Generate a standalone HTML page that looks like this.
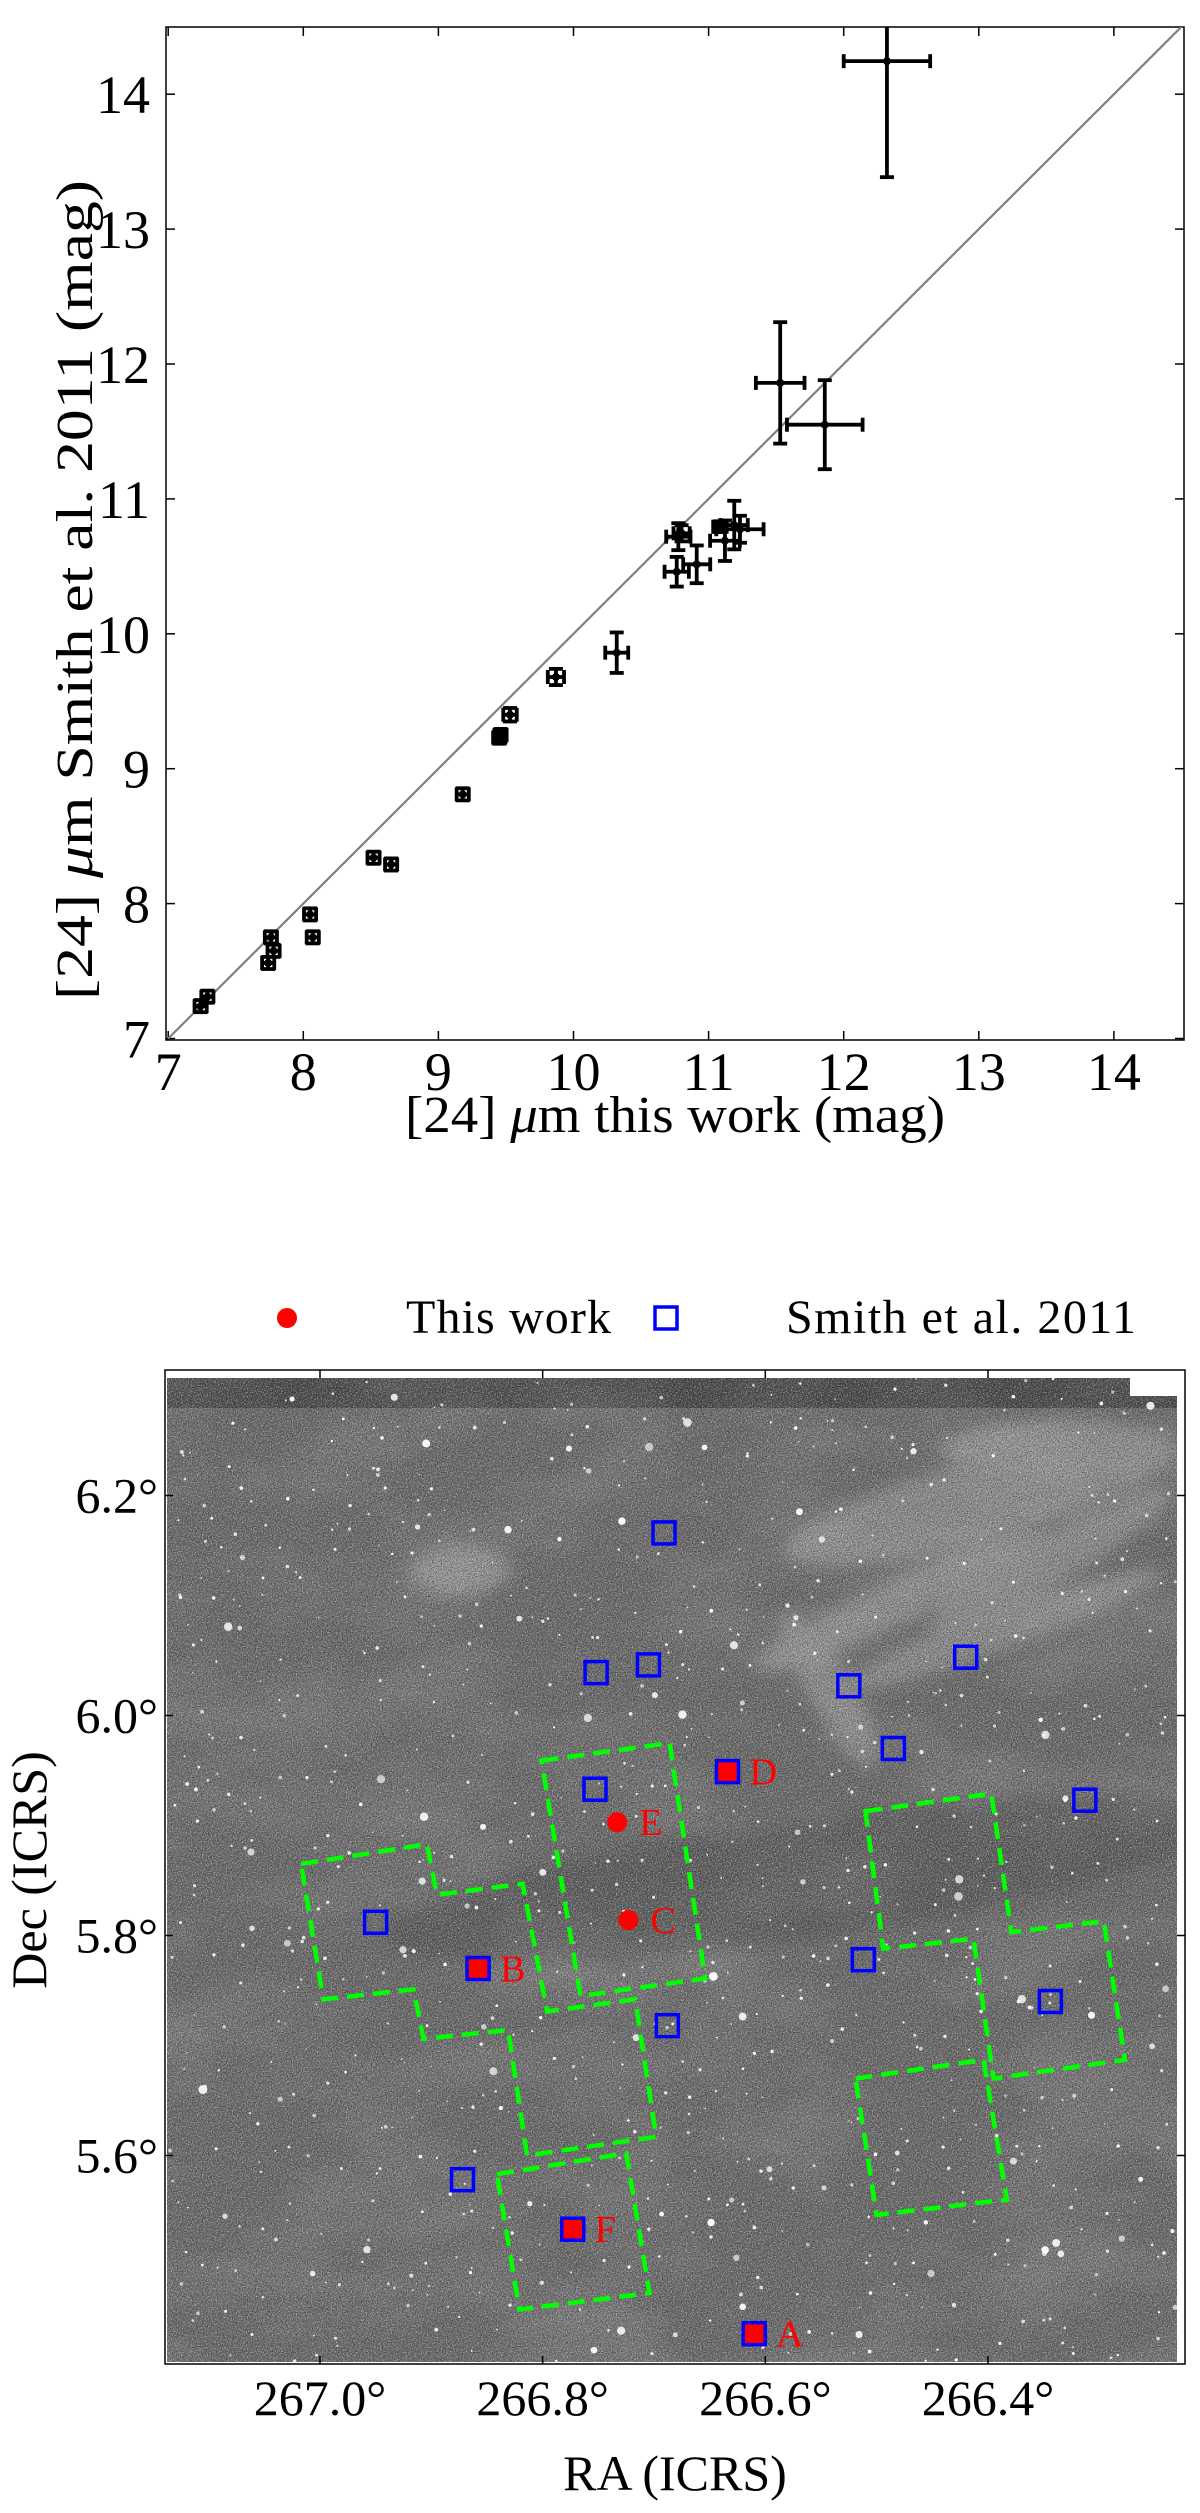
<!DOCTYPE html>
<html><head><meta charset="utf-8"><style>
html,body{margin:0;padding:0;background:#fff}
svg{display:block}
text{font-family:"Liberation Serif",serif;fill:#000}
</style></head><body>
<svg id="fig" width="1200" height="2513" viewBox="0 0 1200 2513" xmlns="http://www.w3.org/2000/svg">
<defs>
<clipPath id="clipTop"><rect x="166" y="27" width="1018" height="1013"/></clipPath>
<clipPath id="clipImg"><rect x="167" y="1378" width="1010" height="984"/></clipPath>
<filter id="grainW" x="0" y="0" width="100%" height="100%">
<feTurbulence type="fractalNoise" baseFrequency="0.8" numOctaves="2" seed="3"/>
<feColorMatrix type="matrix" values="0 0 0 0 1  0 0 0 0 1  0 0 0 0 1  3 0 0 0 -1.45"/>
</filter>
<filter id="grainB" x="0" y="0" width="100%" height="100%">
<feTurbulence type="fractalNoise" baseFrequency="0.8" numOctaves="2" seed="9"/>
<feColorMatrix type="matrix" values="0 0 0 0 0  0 0 0 0 0  0 0 0 0 0  3 0 0 0 -1.45"/>
</filter>
<filter id="cloud" x="0" y="0" width="100%" height="100%">
<feTurbulence type="fractalNoise" baseFrequency="0.006 0.012" numOctaves="4" seed="7"/>
<feColorMatrix type="matrix" values="0 0 0 0 1  0 0 0 0 1  0 0 0 0 1  0 0 0 0.9 -0.35"/>
</filter>
<filter id="blur8"><feGaussianBlur stdDeviation="8"/></filter>
</defs>

<!-- ===== Top panel ===== -->
<g id="topPanel">
<rect x="166" y="27" width="1018" height="1013" fill="#fff" stroke="#000" stroke-width="1.5"/>
<g id="topTicks"></g>
<g id="topMarks" clip-path="url(#clipTop)"></g>
<text x="405" y="1132" font-size="52" textLength="540" lengthAdjust="spacingAndGlyphs">[24] <tspan font-style="italic">μ</tspan>m this work (mag)</text>
<text transform="translate(92,1000) rotate(-90)" font-size="52" textLength="820" lengthAdjust="spacingAndGlyphs">[24] <tspan font-style="italic">μ</tspan>m Smith et al. 2011 (mag)</text>
</g>

<!-- ===== Bottom panel ===== -->
<g id="botPanel">
<g>
<circle cx="287" cy="1318" r="10" fill="#ff0000"/>
<text x="406" y="1333" font-size="48" textLength="205">This work</text>
<rect x="655" y="1307" width="22" height="22" fill="none" stroke="#0000ff" stroke-width="3.5"/>
<text x="786" y="1333" font-size="48" textLength="350">Smith et al. 2011</text>
</g>
<g clip-path="url(#clipImg)">
<rect x="167" y="1378" width="1010" height="984" fill="#6a6a6a"/>
<rect x="167" y="1378" width="1010" height="30" fill="#4a4a4a"/>
<rect x="167" y="1378" width="1010" height="984" filter="url(#cloud)" opacity="0.3"/>
<g filter="url(#blur8)" fill="#fff" opacity="0.22">
<ellipse cx="980" cy="1500" rx="200" ry="40" transform="rotate(-15 980 1500)"/>
<ellipse cx="1060" cy="1450" rx="120" ry="30"/>
<ellipse cx="900" cy="1600" rx="160" ry="22" transform="rotate(-25 900 1600)"/>
<ellipse cx="830" cy="1690" rx="22" ry="90" transform="rotate(-30 830 1690)"/>
<ellipse cx="1000" cy="1630" rx="170" ry="20" transform="rotate(-20 1000 1630)"/>
<ellipse cx="1050" cy="1560" rx="140" ry="25" transform="rotate(-30 1050 1560)"/>
<ellipse cx="460" cy="1570" rx="50" ry="25"/>
</g>
<g filter="url(#blur8)" fill="#000" opacity="0.12">
<ellipse cx="800" cy="1880" rx="420" ry="60" transform="rotate(-8 800 1880)"/>
</g>
<rect x="167" y="1378" width="1010" height="984" filter="url(#grainW)" opacity="0.55"/>
<rect x="167" y="1378" width="1010" height="984" filter="url(#grainB)" opacity="0.5"/>
<g id="stars"></g>
<rect x="1130" y="1378" width="50" height="18" fill="#fff"/>
</g>
<rect x="165" y="1370" width="1020" height="994" fill="none" stroke="#000" stroke-width="1.5"/>
<g id="botTicks"></g>
<g id="botMarks"></g>
<text x="675" y="2490" font-size="50" text-anchor="middle">RA (ICRS)</text>
<text transform="translate(46,1870) rotate(-90)" font-size="50" text-anchor="middle">Dec (ICRS)</text>
</g>
</svg>
<script>
// ---------- Top chart data ----------
const magThisWork = [12.32,11.53,11.86,10.776,10.764,10.912,11.121,11.19,11.232,11.084,10.80,10.32,9.87,9.53,9.45,9.46,9.18,8.52,8.65,8.05,8.07,7.76,7.78,7.74,7.24,7.29];
const magSmith    = [14.245,11.86,11.55,10.72,10.46,10.515,10.69,10.806,10.775,10.794,10.745,9.86,9.68,9.40,9.23,9.25,8.81,8.34,8.29,7.92,7.75,7.75,7.65,7.56,7.24,7.31];
const errThisWork = [0.32,0.18,0.28,0.09,0.09,0.10,0.11,0.10,0.175,0.05,0.06,0.085,0.06,0.05,0.045,0.045,0.045,0.045,0.045,0.045,0.045,0.045,0.045,0.045,0.045,0.045];
const errSmith    = [0.86,0.45,0.33,0.10,0.11,0.14,0.15,0.18,0.10,0.04,0.06,0.15,0.06,0.05,0.045,0.045,0.045,0.045,0.045,0.045,0.045,0.045,0.045,0.045,0.045,0.045];
const topTickValues = [7,8,9,10,11,12,13,14];
const topTickLabels = ["7","8","9","10","11","12","13","14"];

// ---------- Sky map data ----------
const smithRA  = [266.691,266.752,266.705,266.525,266.420,266.485,266.634,266.753,266.313,266.950,266.858,266.512,266.344,266.688,266.872,266.773,266.610];
const smithDec = [6.166,6.039,6.046,6.027,6.053,5.970,5.949,5.933,5.923,5.812,5.770,5.778,5.740,5.718,5.578,5.533,5.438];
const workLabels = ["A","B","C","D","E","F"];
const workRA  = [266.610,266.858,266.723,266.634,266.733,266.773];
const workDec = [5.438,5.770,5.814,5.949,5.903,5.533];
const workShape = ["square","square","circle","square","circle","square"];
const footprintRA = [
 [267.017,266.904,266.895,266.818,266.796,266.717,266.698,266.814,266.831,266.907,266.916,266.997],
 [266.801,266.686,266.654,266.766],
 [266.841,266.725,266.704,266.821],
 [266.510,266.397,266.379,266.296,266.277,266.395,266.413,266.494],
 [266.519,266.404,266.383,266.500]
];
const footprintDec = [
 [5.865,5.883,5.837,5.847,5.731,5.742,5.617,5.600,5.714,5.706,5.751,5.742],
 [5.959,5.975,5.761,5.745],
 [5.583,5.602,5.475,5.460],
 [5.913,5.929,5.803,5.813,5.687,5.670,5.797,5.788],
 [5.670,5.687,5.560,5.546]
];
const raTicks = [267.0,266.8,266.6,266.4];
const raTickLabels = ["267.0°","266.8°","266.6°","266.4°"];
const decTicks = [6.2,6.0,5.8,5.6];
const decTickLabels = ["6.2°","6.0°","5.8°","5.6°"];

const NS = "http://www.w3.org/2000/svg";
function mk(tag, attrs, parent){const e=document.createElementNS(NS,tag);for(const k in attrs)e.setAttribute(k,attrs[k]);parent.appendChild(e);return e;}
const X1 = v => 168.2 + (v-7)*135.1;
const Y1 = v => 1038.5 - (v-7)*134.9;
const X2 = ra => 320 + (267-ra)*1113.3;
const Y2 = dec => 1495.5 + (6.2-dec)*1100;

// top ticks
const tt = document.getElementById('topTicks');
topTickValues.forEach((v,i)=>{
  const x=X1(v), y=Y1(v);
  let l;
  l=mk('line',{x1:x,y1:1040,x2:x,y2:1031,stroke:'#000','stroke-width':1.5},tt);
  
  
  mk('line',{x1:x,y1:27,x2:x,y2:36,stroke:'#000','stroke-width':1.5},tt);
  l=mk('line',{x1:166,y1:y,x2:175,y2:y,stroke:'#000','stroke-width':1.5},tt);
  
  
  mk('line',{x1:1184,y1:y,x2:1175,y2:y,stroke:'#000','stroke-width':1.5},tt);
  const tx=mk('text',{x:x,y:1090,'font-size':54,'text-anchor':'middle'},tt);
  tx.textContent=topTickLabels[i];
  
  
  const ty=mk('text',{x:150,y:y+19,'font-size':54,'text-anchor':'end'},tt);
  ty.textContent=topTickLabels[i];
  
  
});
// top marks
const tm = document.getElementById('topMarks');
const diag = mk('line',{x1:X1(7),y1:Y1(7),x2:X1(14.5),y2:Y1(14.5),stroke:'#808080','stroke-width':2.2},tm);


magThisWork.forEach((xv,i)=>{
  const yv=magSmith[i], ex=errThisWork[i], ey=errSmith[i];
  const g=mk('g',{stroke:'#000','stroke-width':3.8},tm);
  
  
  const x=X1(xv), y=Y1(yv), xa=X1(xv-ex), xb=X1(xv+ex), ya=Y1(yv-ey), yb=Y1(yv+ey);
  mk('line',{x1:xa,y1:y,x2:xb,y2:y},g);
  mk('line',{x1:x,y1:ya,x2:x,y2:yb},g);
  mk('line',{x1:xa,y1:y-7,x2:xa,y2:y+7},g);
  mk('line',{x1:xb,y1:y-7,x2:xb,y2:y+7},g);
  mk('line',{x1:x-7,y1:ya,x2:x+7,y2:ya},g);
  mk('line',{x1:x-7,y1:yb,x2:x+7,y2:yb},g);
  mk('circle',{cx:x,cy:y,r:4,fill:'#000',stroke:'none'},g);
});

// stars (image texture)
const st=document.getElementById('stars');
let seed=12345; const rnd=()=>{seed=(seed*16807)%2147483647;return seed/2147483647;};
for(let i=0;i<900;i++){
  const r=rnd()<0.92?0.8+rnd()*1.1:2+rnd()*2.5;
  mk('circle',{cx:167+rnd()*1010,cy:1378+rnd()*984,r:r,fill:'#fff',opacity:0.6+rnd()*0.4},st);
}

// bottom ticks
const bt=document.getElementById('botTicks');
raTicks.forEach((v,i)=>{
  const x=X2(v);
  mk('line',{x1:x,y1:2364,x2:x,y2:2356,stroke:'#000','stroke-width':1.5},bt);
  mk('line',{x1:x,y1:1370,x2:x,y2:1378,stroke:'#000','stroke-width':1.5},bt);
  const t=mk('text',{x:x,y:2415,'font-size':50,'text-anchor':'middle'},bt);
  t.textContent=raTickLabels[i];
  
  
});
decTicks.forEach((v,i)=>{
  const y=Y2(v);
  mk('line',{x1:165,y1:y,x2:173,y2:y,stroke:'#000','stroke-width':1.5},bt);
  mk('line',{x1:1185,y1:y,x2:1177,y2:y,stroke:'#000','stroke-width':1.5},bt);
  const t=mk('text',{x:158,y:y+17,'font-size':50,'text-anchor':'end'},bt);
  t.textContent=decTickLabels[i];
  
  
});

// bottom marks
const bm=document.getElementById('botMarks');
footprintRA.forEach((ras,k)=>{
  const pts=ras.map((ra,j)=>X2(ra).toFixed(1)+','+Y2(footprintDec[k][j]).toFixed(1)).join(' ');
  const p=mk('polygon',{points:pts,fill:'none',stroke:'#00ff00','stroke-width':4.5,'stroke-dasharray':'17 9'},bm);
  
  
});
workRA.forEach((ra,i)=>{
  const x=X2(ra), y=Y2(workDec[i]);
  let m;
  if(workShape[i]==='circle'){ m=mk('circle',{cx:x,cy:y,r:10,fill:'#ff0000'},bm); }
  else { m=mk('rect',{x:x-10,y:y-10,width:20,height:20,fill:'#ff0000'},bm); }
  
  
  const t=mk('text',{x:x+22,y:y+13,'font-size':38},bm);
  t.setAttribute('style','fill:#ff0000');
  t.textContent=workLabels[i];
  
  
});
smithRA.forEach((ra,i)=>{
  const x=X2(ra), y=Y2(smithDec[i]);
  const r=mk('rect',{x:x-11,y:y-11,width:22,height:22,fill:'none',stroke:'#0000ff','stroke-width':3.5},bm);
  
  
});
</script>
</body></html>
